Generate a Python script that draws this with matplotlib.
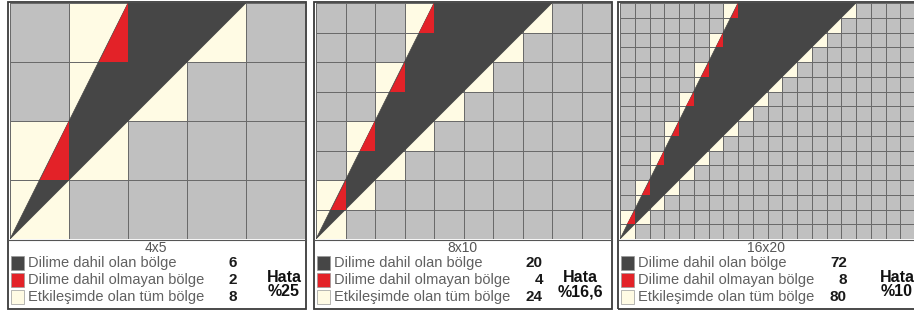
import numpy as np
import matplotlib
matplotlib.use("Agg")
from matplotlib import pyplot as plt
from matplotlib.colors import ListedColormap
from matplotlib.patches import Polygon, Rectangle

# grid sizes (rows x cols) and the numbers printed under each grid
grid_rows = [4, 8, 16]
grid_cols = [5, 10, 20]
grid_titles = ["4x5", "8x10", "16x20"]
inside_counts = [6, 20, 72]
outside_counts = [2, 4, 8]
total_counts = [8, 24, 80]
error_texts = ["%25", "%16,6", "%10"]
legend_labels = ["Dilime dahil olan bölge",
                 "Dilime dahil olmayan bölge",
                 "Etkileşimde olan tüm bölge"]
# slice: apex at lower left, top edge runs from x = 0.5*rows to x = 1.0*rows
slice_left = 0.5
slice_right = 1.0

W, H = 914, 315
GRAY = "#c0c0c0"
CREAM = "#fffbe4"
DARK = "#464646"
RED = "#e32228"
LINE = "#6a6a6a"

panel_left = [8, 314, 618]
panel_width = 298
hata_x = [284, 580, 897]


def fx(px):
    return px / W


def fy(py):
    return 1 - py / H


def cell_classes(rows, cols):
    '''1 where the cell meets the slice, 0 elsewhere'''
    cls = np.zeros((rows, cols))
    for r in range(rows):
        xmin = r * slice_left
        xmax = (r + 1) * slice_right
        for c in range(cols):
            if c < xmax and c + 1 > xmin:
                cls[r, c] = 1
    return cls


fig = plt.figure(figsize=(W / 100, H / 100), dpi=100)
fig.patch.set_facecolor("white")

for i in range(3):
    rows, cols = grid_rows[i], grid_cols[i]
    left = panel_left[i]
    gl = left + 2
    ax = fig.add_axes([fx(gl), fy(239), fx(295), 236 / H])
    cls = cell_classes(rows, cols)
    ax.pcolormesh(np.arange(cols + 1), np.arange(rows + 1), cls,
                  cmap=ListedColormap([GRAY, CREAM]), vmin=0, vmax=1,
                  edgecolors=LINE, linewidth=0.5)
    tri = Polygon([(0, 0), (rows * slice_left, rows), (rows * slice_right, rows)],
                  closed=True, facecolor=DARK, edgecolor=DARK, lw=0.5, zorder=3)
    ax.add_patch(tri)
    # part of the slice cut off by the cell column boundary on odd rows
    for r in range(1, rows, 2):
        x0 = r * slice_left
        x1 = (r + 1) * slice_left
        ax.add_patch(Polygon([(x0, r), (x1, r), (x1, r + 1)], closed=True,
                             facecolor=RED, edgecolor="none", zorder=4))
    ax.set_xlim(0, cols)
    ax.set_ylim(0, rows)
    ax.axis("off")

    # panel frame
    fig.add_artist(Rectangle((fx(left), fy(309)), fx(panel_width), 307 / H,
                             fill=False, edgecolor="#3a3a3a", lw=1.3,
                             transform=fig.transFigure))
    fig.add_artist(plt.Line2D([fx(left), fx(left + panel_width)], [fy(240), fy(240)],
                              color="#555555", lw=0.8, transform=fig.transFigure))

    fig.text(fx(left + 148), fy(248), grid_titles[i], ha="center", va="center",
             fontsize=10, color="#555555", family="Liberation Sans")

    values = [inside_counts[i], outside_counts[i], total_counts[i]]
    colors = [DARK, RED, CREAM]
    for k in range(3):
        yc = 263 + k * 17
        fig.add_artist(Rectangle((fx(left + 3), fy(yc + 7)), fx(13), 14 / H,
                                 facecolor=colors[k], edgecolor="#999999", lw=0.5,
                                 transform=fig.transFigure))
        fig.text(fx(left + 20), fy(yc), legend_labels[k], ha="left", va="center",
                 fontsize=10.5, color="#606060", family="Liberation Sans")
        fig.text(fx(left + 229), fy(yc), str(values[k]), ha="right", va="center",
                 fontsize=11, color="#1a1a1a", fontweight="bold",
                 family="Liberation Sans")

    fig.text(fx(hata_x[i]), fy(277), "Hata", ha="center", va="center",
             fontsize=11.5, fontweight="bold", color="#111111", family="Liberation Sans")
    fig.text(fx(hata_x[i]), fy(292), error_texts[i], ha="center", va="center",
             fontsize=11.5, fontweight="bold", color="#111111", family="Liberation Sans")

fig.savefig("out.png", dpi=100, facecolor="white")
